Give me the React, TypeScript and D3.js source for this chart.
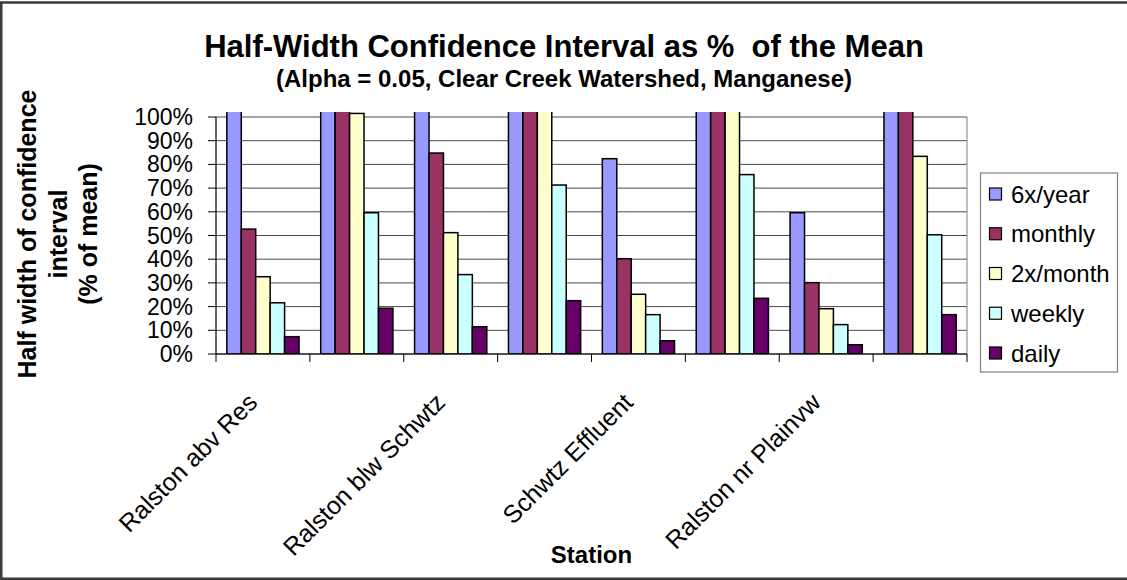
import React from "react";
import * as d3 from "d3";

// ---- data ----
const categories = [
  "Ralston abv Res",
  "(station 2)",
  "Ralston blw Schwtz",
  "(station 4)",
  "Schwtz Effluent",
  "(station 6)",
  "Ralston nr Plainvw",
  "(station 8)",
];
// only every other category label is shown on the axis
const shownLabelIndex = [0, 2, 4, 6];

const seriesNames = ["6x/year", "monthly", "2x/month", "weekly", "daily"];
const seriesColors = ["#9999FF", "#993366", "#FFFFCC", "#CCFFFF", "#660066"];

// values as fraction of mean (values above 1.0 run off the top of the chart)
const sixPerYear = [1.5, 1.5, 1.5, 1.5, 0.824, 1.5, 0.596, 1.5];
const monthly = [0.527, 1.5, 0.848, 1.5, 0.402, 1.5, 0.301, 1.5];
const twoPerMonth = [0.326, 1.015, 0.512, 1.5, 0.252, 1.5, 0.191, 0.834];
const weekly = [0.216, 0.596, 0.335, 0.713, 0.166, 0.757, 0.124, 0.503];
const daily = [0.073, 0.193, 0.115, 0.225, 0.056, 0.235, 0.039, 0.166];

const yTickValues = [0, 0.1, 0.2, 0.3, 0.4, 0.5, 0.6, 0.7, 0.8, 0.9, 1.0];

const titleText = "Half-Width Confidence Interval as % \u00A0of the Mean";
const subtitleText = "(Alpha = 0.05, Clear Creek Watershed, Manganese)";
const yTitleLines = ["Half width of confidence", "interval", "(% of mean)"];
const xTitleText = "Station";

// ---- layout ----
const W = 1127;
const H = 580;
const plot = { left: 216, right: 967, top: 117, bottom: 354 };
const FONT = "'Liberation Sans', Arial, Helvetica, sans-serif";

export default function App() {
  const seriesValues = [sixPerYear, monthly, twoPerMonth, weekly, daily];
  const idx = categories.map((_, i) => i);

  const x = d3
    .scaleBand<number>()
    .domain(idx)
    .range([plot.left, plot.right])
    .paddingInner(1.5 / 6.5)
    .paddingOuter(0.75 / 6.5);
  const step = x.step();
  const xs = d3
    .scaleBand<number>()
    .domain(seriesNames.map((_, i) => i))
    .range([0, x.bandwidth()])
    .padding(0);
  const y = d3.scaleLinear().domain([0, 1]).range([plot.bottom, plot.top]);
  const fmt = d3.format(".0%");

  const groupEdges = d3.range(categories.length + 1).map((i) => plot.left + i * step);

  return (
    <div style={{ position: "absolute", left: 0, top: 0, width: W, height: H, background: "#fff" }}>
      <svg width={W} height={H} style={{ display: "block", fontFamily: FONT }}>
        <defs>
          <clipPath id="plotClip">
            <rect x={plot.left} y={plot.top - 5} width={plot.right - plot.left} height={plot.bottom - plot.top + 5} />
          </clipPath>
        </defs>
        <rect x={0} y={0} width={W} height={H} fill="#fff" />
        {/* outer chart border (right side cut off in reference) */}
        <path d={`M${W + 5},2.5 H1.25 V578.75 H${W + 5}`} fill="none" stroke="#3a3a3a" strokeWidth={2.5} />

        {/* titles */}
        <text x={564} y={57} textAnchor="middle" fontSize={31} fontWeight="bold" fill="#000">
          {titleText}
        </text>
        <text x={564} y={87} textAnchor="middle" fontSize={24} fontWeight="bold" fill="#000">
          {subtitleText}
        </text>

        {/* gridlines */}
        {yTickValues.map((t) => (
          <line key={"g" + t} x1={plot.left} x2={plot.right} y1={y(t)} y2={y(t)} stroke="#4a4a4a" strokeWidth={1} />
        ))}
        {/* plot area border (right) */}
        <line x1={plot.right} x2={plot.right} y1={plot.top} y2={plot.bottom} stroke="#808080" strokeWidth={1} />

        {/* bars */}
        <g clipPath="url(#plotClip)">
          {categories.map((c, ci) => (
            <g key={c} transform={`translate(${x(ci)},0)`}>
              {seriesValues.map((vals, si) => {
                const v = vals[ci];
                const yTop = y(v);
                return (
                  <rect
                    key={si}
                    x={xs(si)}
                    y={yTop}
                    width={xs.bandwidth()}
                    height={plot.bottom - yTop}
                    fill={seriesColors[si]}
                    stroke="#000"
                    strokeWidth={1.5}
                  />
                );
              })}
            </g>
          ))}
        </g>

        {/* y axis */}
        <line x1={plot.left} x2={plot.left} y1={plot.top} y2={plot.bottom} stroke="#000" strokeWidth={1.2} />
        {yTickValues.map((t) => (
          <g key={"yt" + t}>
            <line x1={plot.left - 8} x2={plot.left} y1={y(t)} y2={y(t)} stroke="#000" strokeWidth={1} />
            <text x={193} y={y(t) + 8} textAnchor="end" fontSize={23} fill="#000">
              {fmt(t)}
            </text>
          </g>
        ))}

        {/* x axis */}
        <line x1={plot.left} x2={plot.right} y1={plot.bottom} y2={plot.bottom} stroke="#000" strokeWidth={1.2} />
        {groupEdges.map((gx, i) => (
          <line key={"xt" + i} x1={gx} x2={gx} y1={plot.bottom} y2={plot.bottom + 8} stroke="#000" strokeWidth={1} />
        ))}
        {shownLabelIndex.map((ci) => {
          const cx = (x(ci) as number) + x.bandwidth() / 2 - 4;
          const cy = 404;
          return (
            <text
              key={"xl" + ci}
              x={cx}
              y={cy}
              textAnchor="end"
              fontSize={25}
              fill="#000"
              transform={`rotate(-45 ${cx} ${cy})`}
            >
              {categories[ci]}
            </text>
          );
        })}

        {/* axis titles */}
        <text x={(plot.left + plot.right) / 2} y={563} textAnchor="middle" fontSize={24} fontWeight="bold" fill="#000">
          {xTitleText}
        </text>
        {yTitleLines.map((line, i) => {
          const bx = 36 + i * 30.5;
          const by = 234;
          return (
            <text
              key={"yl" + i}
              x={bx}
              y={by}
              textAnchor="middle"
              fontSize={25}
              fontWeight="bold"
              fill="#000"
              transform={`rotate(-90 ${bx} ${by})`}
            >
              {line}
            </text>
          );
        })}

        {/* legend */}
        <rect x={980.5} y={173} width={137} height={199} fill="#fff" stroke="#808080" strokeWidth={1.2} />
        {seriesNames.map((s, i) => {
          const cy = 194 + i * 39.75;
          return (
            <g key={"lg" + s}>
              <rect x={989.5} y={cy - 6} width={12} height={12} fill={seriesColors[i]} stroke="#000" strokeWidth={1.2} />
              <text x={1011} y={cy + 8.5} fontSize={24} fill="#000">
                {s}
              </text>
            </g>
          );
        })}
      </svg>
    </div>
  );
}
